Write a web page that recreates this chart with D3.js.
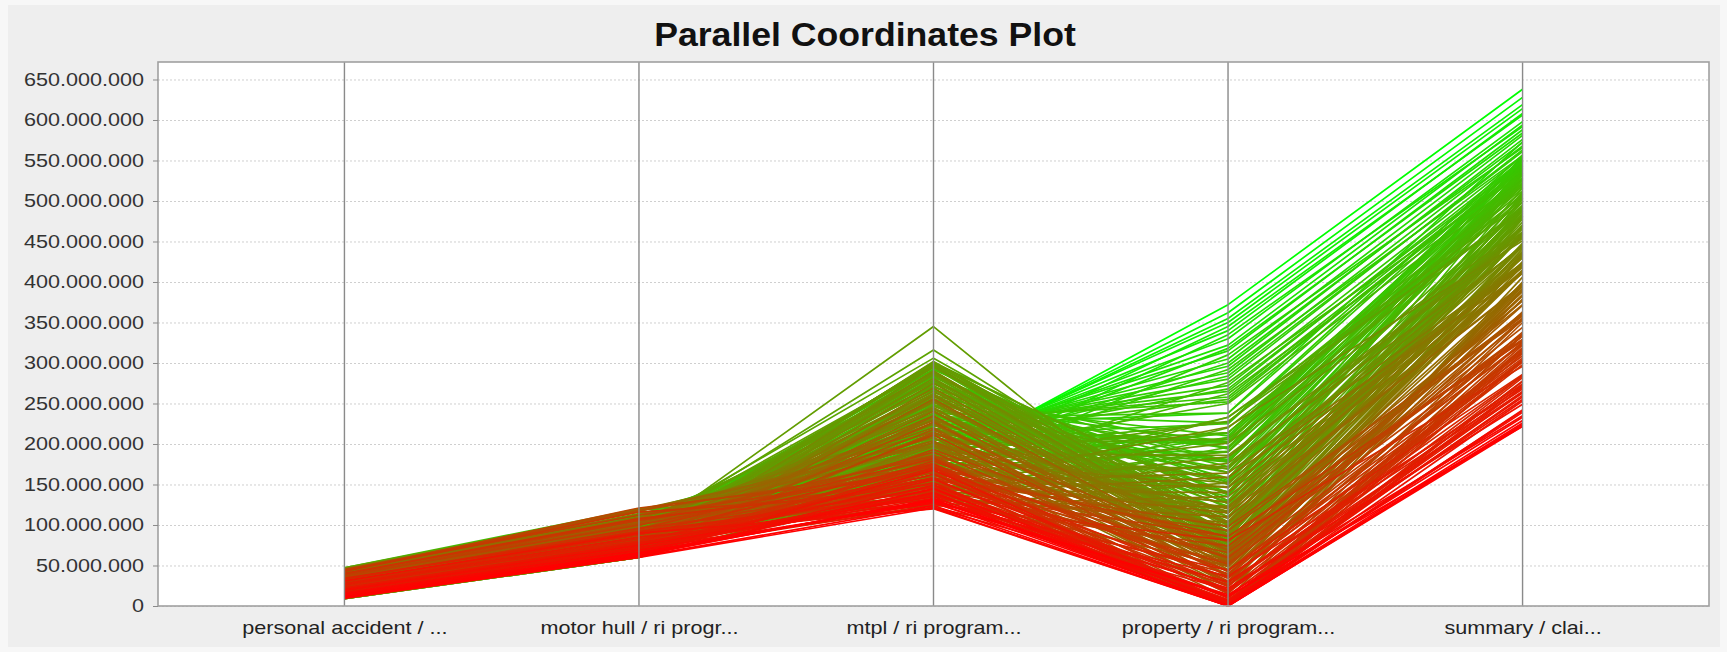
<!DOCTYPE html>
<html>
<head>
<meta charset="utf-8">
<script src="https://cdn.jsdelivr.net/npm/d3@7"></script>
<style>
  html, body { margin: 0; padding: 0; background: #f7f7f7; }
  svg { display: block; }
</style>
</head>
<body>
<svg id="chart" width="1727" height="652"></svg>
<script>
// Axis labels of the parallel coordinates (as shown, truncated)
const axisLabels = [
  "personal accident / ...",
  "motor hull / ri progr...",
  "mtpl / ri program...",
  "property / ri program...",
  "summary / clai..."
];

// Y tick values, in millions
const yTicks = [0, 50, 100, 150, 200, 250, 300, 350, 400, 450, 500, 550, 600, 650];

// One entry per record, values in millions
const personalAccident = [
  24,18,27,22,17,30,15,25,31,20,28,14,33,23,34,21,32,26,35,16,36,24,38,18,33,29,37,25,
  28,24,30,
  31,15,44,22,46,10,36,27,35,24, 43,12,27,24,38,12,46,26,29,14, 43,25,43,18,32,25,34,23,46,9,
  35,20,36,11,45,29,26,22,39,23, 42,17,35,22,42,19,44,9,33,23, 32,19,39,26,23,20,40,19,46,13,
  30,19,37,20,20,16,26,19,27,17, 22,20,28,15,33,16,39,15,23,25, 29,17,29,14,26,15,31,13,30,17,25,
  18,22,16,20,
  10,14,20,12,27,16,33,13,30,38,40,34,45,22,
  27,37,18,33,18,45,10,33,36,15, 47,22,35,15,38,29,18,38,11,23, 40,13,36,21,41,13,28,39,18,44,
  25,30,18,41,25,21,33,14,26,20, 16,31,24,44,9,31,34,21,47,21, 33,13,43,27,16,35,9,28,38,11,
  33,18,15,12,24,34,15,18,22,26, 16,34,15,18,27,12,21,36,14,15, 20,34,14,25,27,16,34,23,26,11,
  33,20,20,27,9,21,27,16,25,14,
  11,13,16,12,19,14,22,17,25,20,28,15,24,30,18,26,33,21
];
const motorHull = [
  82,78,88,80,74,90,72,86,94,76,92,70,96,84,98,77,100,87,97,68,102,85,104,73,99,93,106,81,
  85,90,95,
  90,72,109,81,119,65,97,84,106,75, 116,62,94,78,103,68,113,87,93,70, 112,78,121,67,100,81,104,77,113,60,
  96,75,106,71,110,89,87,74,106,84, 117,63,99,86,108,73,117,62,93,77, 101,68,109,85,88,70,105,79,112,65,
  92,81,99,72,80,62,87,74,94,66, 80,81,83,69,97,75,103,64,86,77, 92,70,98,61,82,72,88,65,93,77,79,
  75,82,70,78,
  60,66,75,62,80,70,95,64,88,100,108,92,112,76,
  85,108,67,98,78,116,62,92,103,72, 120,82,96,68,111,89,75,101,60,87, 106,69,96,80,114,64,90,105,70,118,
  84,94,70,109,91,73,103,62,82,80, 64,101,75,119,60,95,100,75,117,79, 95,68,109,88,74,99,60,84,105,66,
  95,76,66,62,88,98,70,72,79,90, 67,102,70,72,93,60,80,98,65,70, 74,102,61,84,92,68,103,76,85,66,
  95,79,70,87,60,76,91,64,84,71,
  61,63,69,64,72,66,78,70,83,74,88,67,80,91,71,85,96,76
];
const mtpl = [
  176,180,183,186,172,190,165,193,196,178,200,160,204,185,208,170,212,195,215,155,218,200,222,168,226,210,230,188,
  345,316,306,
  120,122,125,126,129,130,132,135,136,138, 141,142,144,147,148,150,153,154,157,158, 160,162,165,166,168,171,172,174,177,178,
  180,183,184,186,189,190,193,194,196,198, 201,202,205,206,208,211,212,214,217,218, 220,223,224,226,229,230,232,235,236,238,
  241,242,244,247,248,251,252,254,256,259, 260,262,265,266,268,271,272,275,276,278, 281,282,284,286,289,290,292,295,296,298,300,
  301,299,302,300,
  121,128,135,145,158,170,182,168,176,172,150,138,165,152,
  121,123,125,126,128,130,132,134,135,137, 139,141,143,144,146,148,150,152,153,155, 157,159,161,162,164,166,168,170,171,173,
  175,177,179,180,182,184,186,188,189,191, 193,195,197,198,200,202,204,206,207,209, 211,213,215,216,218,220,222,224,225,227,
  229,231,233,234,236,238,240,242,243,245, 247,249,251,252,254,256,258,260,261,263, 265,267,269,270,272,274,276,278,279,281,
  283,285,287,288,290,292,294,296,297,299,
  124,131,127,140,133,149,138,156,129,163,146,171,159,136,175,152,142,166
];
const property = [
  372,362,355,350,345,340,335,330,322,318,315,310,305,300,296,292,288,284,280,276,272,268,265,262,258,255,252,250,
  50,88,102,
  0,37,135,74,196,12,110,233,49,159, 0,86,184,25,123,221,61,147,5,98, 208,172,0,44,128,81,190,16,117,228,
  55,152,3,79,191,30,116,214,68,141, 18,104,201,178,24,31,141,69,202,30, 104,238,43,165,37,92,178,42,129,226,
  56,153,48,91,203,165,54,57,123,66, 172,60,93,194,65,127,68,70,138,72, 88,155,76,99,79,80,130,104,84,86,88,
  126,110,96,130,
  0,1,0,2,0,1,0,3,0,2,0,0,4,0,
  20,152,81,220,44,122,0,176,103,29, 208,66,140,7,191,93,233,54,164,115, 2,201,74,24,147,86,214,49,128,0,
  170,98,34,213,61,146,10,186,98,227, 59,158,120,15,206,69,19,158,76,225, 39,117,27,181,108,30,203,71,135,36,
  196,88,238,50,169,110,45,196,79,49, 150,78,210,53,114,56,158,91,59,178, 62,115,64,153,73,179,69,121,84,73,
  140,76,78,100,80,137,82,84,85,100,
  0,6,14,3,22,10,8,18,30,5,12,26,35,40,44,52,20,60
];
const summary = [
  638,628,619,614,606,608,592,598,594,584,588,566,581,572,576,556,568,561,563,534,555,546,551,528,545,539,542,525,
  478,488,492,
  253,271,418,333,508,222,397,487,361,411, 312,327,454,304,430,451,395,422,319,355, 535,462,334,325,446,358,522,298,488,490,
  378,455,334,377,553,338,444,512,444,461, 390,411,545,522,400,334,536,362,545,363, 469,573,420,532,395,412,555,383,528,557,
  431,520,433,460,551,494,441,412,535,423, 534,448,474,544,481,489,504,432,528,467, 502,549,492,468,470,445,541,466,480,470,482,
  490,478,470,495,
  222,229,242,239,273,282,315,260,302,322,303,278,326,270,
  265,445,296,507,286,413,226,443,412,268, 526,336,419,264,504,359,498,353,423,395, 317,467,372,317,484,329,522,371,422,350,
  466,424,306,543,377,424,354,458,430,518, 344,510,421,406,493,397,379,468,482,549, 390,436,399,542,434,384,516,415,538,355,
  553,438,552,388,535,480,392,528,458,425, 492,488,546,425,506,384,539,493,434,526, 433,543,413,532,482,537,504,506,509,446,
  551,485,460,532,457,526,516,468,526,499,
  224,233,235,241,249,255,258,263,274,277,284,285,302,309,313,323,301,329
];

const columns = [personalAccident, motorHull, mtpl, property, summary];

// ---- layout ----
const plot = { left: 158, right: 1709, top: 62, bottom: 606 };
const svg = d3.select("#chart");

svg.append("rect")
  .attr("x", 8).attr("y", 5).attr("width", 1712).attr("height", 642)
  .attr("fill", "#eeeeee");

svg.append("rect")
  .attr("x", plot.left).attr("y", plot.top)
  .attr("width", plot.right - plot.left).attr("height", plot.bottom - plot.top)
  .attr("fill", "#ffffff");

// ---- scales ----
const x = d3.scalePoint().domain(axisLabels).range([plot.left, plot.right]).padding(0.633);
const y = d3.scaleLinear().domain([0, 671.6]).range([plot.bottom, plot.top]);
const color = d3.scaleLinear()
  .domain(d3.extent(summary))
  .range(["#ff0000", "#00ff00"])
  .interpolate(d3.interpolateRgb);

const fmt = v => d3.format(",")(v * 1e6).replace(/,/g, ".");
const sx = 1.2; // horizontal text stretch

// ---- horizontal grid ----
svg.append("g")
  .attr("transform", `translate(${plot.left},0)`)
  .call(d3.axisLeft(y).tickValues(yTicks).tickSize(-(plot.right - plot.left)).tickFormat(""))
  .call(g => g.select(".domain").remove())
  .selectAll("line")
  .attr("stroke", "#cfcfcf")
  .attr("stroke-dasharray", "2,2");

// ---- records: greener (higher summary) first, redder on top ----
const n = d3.min(columns, c => c.length);
const order = d3.range(n).sort((i, j) => summary[j] - summary[i]);
const line = d3.line()
  .x((d, k) => x(axisLabels[k]))
  .y(d => y(d));

svg.append("g")
  .attr("fill", "none")
  .attr("stroke-width", 1.7)
  .attr("stroke-linejoin", "round")
  .selectAll("path")
  .data(order)
  .join("path")
  .attr("d", i => line(columns.map(c => c[i])))
  .attr("stroke", i => color(summary[i]));

// ---- vertical axis lines ----
svg.append("g")
  .selectAll("line")
  .data(axisLabels)
  .join("line")
  .attr("x1", d => x(d)).attr("x2", d => x(d))
  .attr("y1", plot.top).attr("y2", plot.bottom)
  .attr("stroke", "#8a8a8a")
  .attr("stroke-width", 1.4);

// ---- plot border ----
svg.append("rect")
  .attr("x", plot.left).attr("y", plot.top)
  .attr("width", plot.right - plot.left).attr("height", plot.bottom - plot.top)
  .attr("fill", "none")
  .attr("stroke", "#a0a0a0")
  .attr("stroke-width", 1.6);

// ---- y axis ----
const yAxis = svg.append("g")
  .attr("transform", `translate(${plot.left},0)`)
  .call(d3.axisLeft(y).tickValues(yTicks).tickFormat(fmt).tickSize(5).tickPadding(9));
yAxis.select(".domain").remove();
yAxis.selectAll("line").attr("stroke", "#8a8a8a");
yAxis.selectAll("text")
  .attr("font-family", "'Liberation Sans', Arial, sans-serif")
  .attr("font-size", 18)
  .attr("fill", "#333333")
  .attr("x", -14 / sx)
  .attr("transform", `scale(${sx},1)`);

// ---- x axis labels ----
const xAxis = svg.append("g")
  .attr("transform", `translate(0,${plot.bottom})`)
  .call(d3.axisBottom(x).tickSize(0).tickPadding(15));
xAxis.select(".domain").remove();
xAxis.selectAll("text")
  .attr("font-family", "'Liberation Sans', Arial, sans-serif")
  .attr("font-size", 18)
  .attr("fill", "#222222")
  .attr("x", 0)
  .attr("transform", `scale(${sx},1)`);

// ---- title ----
svg.append("g")
  .attr("transform", "translate(865,46)")
  .append("text")
  .attr("text-anchor", "middle")
  .attr("transform", "scale(1.08,1)")
  .attr("font-family", "'Liberation Sans', Arial, sans-serif")
  .attr("font-weight", "bold")
  .attr("font-size", 33)
  .attr("fill", "#111111")
  .text("Parallel Coordinates Plot");
</script>
</body>
</html>
